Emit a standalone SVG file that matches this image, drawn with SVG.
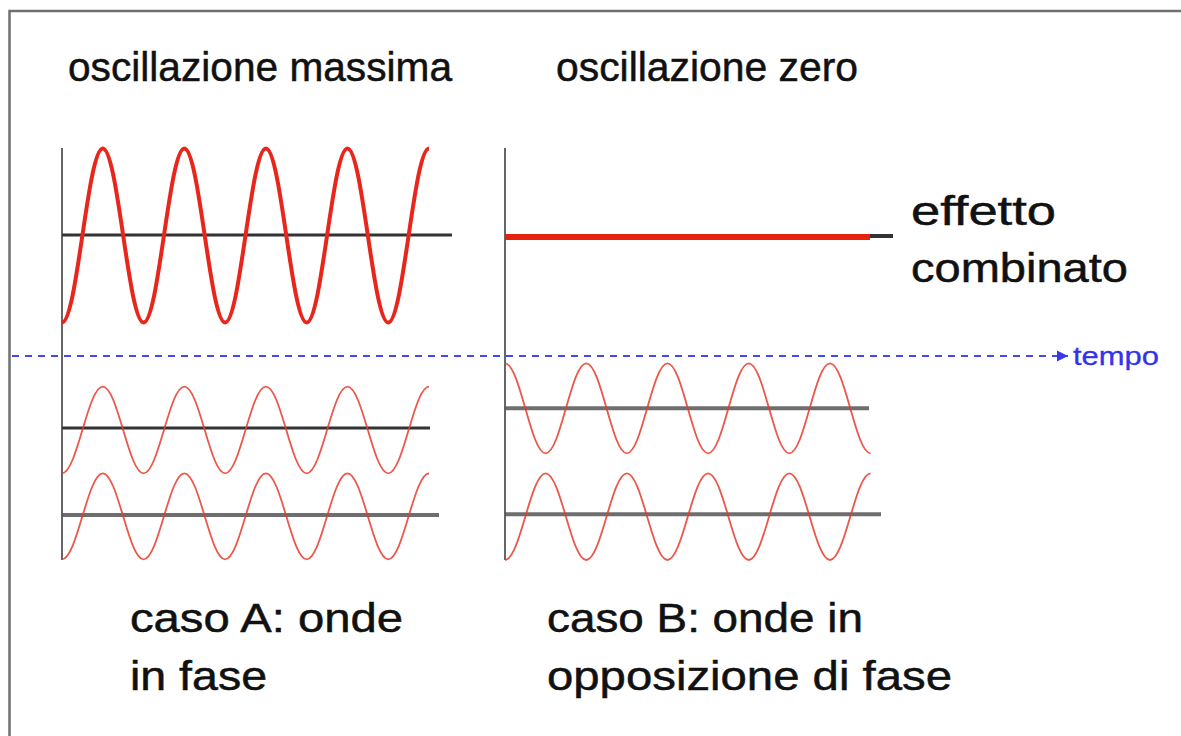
<svg xmlns="http://www.w3.org/2000/svg" width="1181" height="736" viewBox="0 0 1181 736">
<defs>
<style>
.lbl{font-family:"Liberation Sans",Arial,sans-serif;fill:#111;stroke:#111;stroke-width:0.5;}
.big{font-size:40px;}
.axis{stroke:#666;stroke-width:2;fill:none;}
.base{stroke:#333;stroke-width:3;fill:none;}
.baseg{stroke:#555;stroke-width:4;fill:none;opacity:0.85;}
.wbig{stroke:#e8261b;stroke-width:4;fill:none;stroke-linejoin:round;}
.wthin{stroke:#e8392a;stroke-width:1.8;fill:none;opacity:0.85;}
.time{stroke:#4646f0;stroke-width:2;stroke-dasharray:7 6;fill:none;}
.tlbl{font-family:"Liberation Sans",Arial,sans-serif;fill:#3333ee;stroke:#3333ee;stroke-width:0.3;}
</style>
<marker id="arr" markerWidth="12" markerHeight="12" refX="11" refY="6" orient="auto" markerUnits="userSpaceOnUse">
<path d="M0,0.5 L11,6 L0,11.5 Z" fill="#3838ee"/>
</marker>
</defs>
<rect x="0" y="0" width="1181" height="736" fill="#fff"/>
<path d="M9.5,736 V11 H1181" fill="none" stroke="#707070" stroke-width="2.5"/>

<g id="panel-A">
<line class="axis" x1="62" y1="148" x2="62" y2="560"/>
<line class="base" x1="62" y1="235" x2="452" y2="235"/>
<path class="wbig" d="M62,322.5 c15.09,0 25.69,-174 40.78,-174 s25.69,174 40.78,174 s25.69,-174 40.78,-174 s25.69,174 40.78,174 s25.69,-174 40.78,-174 s25.69,174 40.78,174 s25.69,-174 40.78,-174 s25.69,174 40.78,174 s25.69,-174 40.78,-174"/>
<line class="base" x1="62" y1="428" x2="430" y2="428"/>
<path class="wthin" d="M62,473.3 c15.09,0 25.69,-86.6 40.78,-86.6 s25.69,86.6 40.78,86.6 s25.69,-86.6 40.78,-86.6 s25.69,86.6 40.78,86.6 s25.69,-86.6 40.78,-86.6 s25.69,86.6 40.78,86.6 s25.69,-86.6 40.78,-86.6 s25.69,86.6 40.78,86.6 s25.69,-86.6 40.78,-86.6"/>
<line class="baseg" x1="62" y1="515" x2="439" y2="515"/>
<path class="wthin" d="M62,559.3 c15.09,0 25.69,-86 40.78,-86 s25.69,86 40.78,86 s25.69,-86 40.78,-86 s25.69,86 40.78,86 s25.69,-86 40.78,-86 s25.69,86 40.78,86 s25.69,-86 40.78,-86 s25.69,86 40.78,86 s25.69,-86 40.78,-86"/>
</g>

<g id="panel-B">
<line class="axis" x1="505" y1="148" x2="505" y2="560"/>
<line x1="505" y1="236" x2="893" y2="236" stroke="#333" stroke-width="4"/>
<line x1="505" y1="237" x2="870" y2="237" stroke="#e8200f" stroke-width="6"/>
<line class="baseg" x1="505" y1="408.3" x2="869" y2="408.3"/>
<path class="wthin" d="M505,363.3 c15.03,0 25.59,90 40.62,90 s25.59,-90 40.62,-90 s25.59,90 40.62,90 s25.59,-90 40.62,-90 s25.59,90 40.62,90 s25.59,-90 40.62,-90 s25.59,90 40.62,90 s25.59,-90 40.62,-90 s25.59,90 40.62,90"/>
<line class="baseg" x1="505" y1="514.3" x2="881" y2="514.3"/>
<path class="wthin" d="M505,560 c15.03,0 25.59,-86.7 40.62,-86.7 s25.59,86.7 40.62,86.7 s25.59,-86.7 40.62,-86.7 s25.59,86.7 40.62,86.7 s25.59,-86.7 40.62,-86.7 s25.59,86.7 40.62,86.7 s25.59,-86.7 40.62,-86.7 s25.59,86.7 40.62,86.7 s25.59,-86.7 40.62,-86.7"/>
</g>

<g id="connectors">
<line class="time" x1="12" y1="356" x2="1068" y2="356" marker-end="url(#arr)"/>
</g>

<g id="label-tempo">
<text class="tlbl" x="1073" y="365" font-size="26" textLength="86" lengthAdjust="spacingAndGlyphs">tempo</text>
</g>
<g id="title-A">
<text class="lbl big" x="68" y="81" textLength="384" lengthAdjust="spacingAndGlyphs">oscillazione massima</text>
</g>
<g id="title-B">
<text class="lbl big" x="556" y="81" textLength="302" lengthAdjust="spacingAndGlyphs">oscillazione zero</text>
</g>
<g id="label-effetto">
<text class="lbl" x="911" y="225" font-size="41" textLength="145" lengthAdjust="spacingAndGlyphs">effetto</text>
<text class="lbl" x="911" y="282" font-size="41" textLength="217" lengthAdjust="spacingAndGlyphs">combinato</text>
</g>
<g id="caption-A">
<text class="lbl big" x="130" y="632" textLength="273" lengthAdjust="spacingAndGlyphs">caso A: onde</text>
<text class="lbl big" x="130" y="690" textLength="137" lengthAdjust="spacingAndGlyphs">in fase</text>
</g>
<g id="caption-B">
<text class="lbl big" x="547" y="632" textLength="316" lengthAdjust="spacingAndGlyphs">caso B: onde in</text>
<text class="lbl big" x="547" y="690" textLength="405" lengthAdjust="spacingAndGlyphs">opposizione di fase</text>
</g>
</svg>
